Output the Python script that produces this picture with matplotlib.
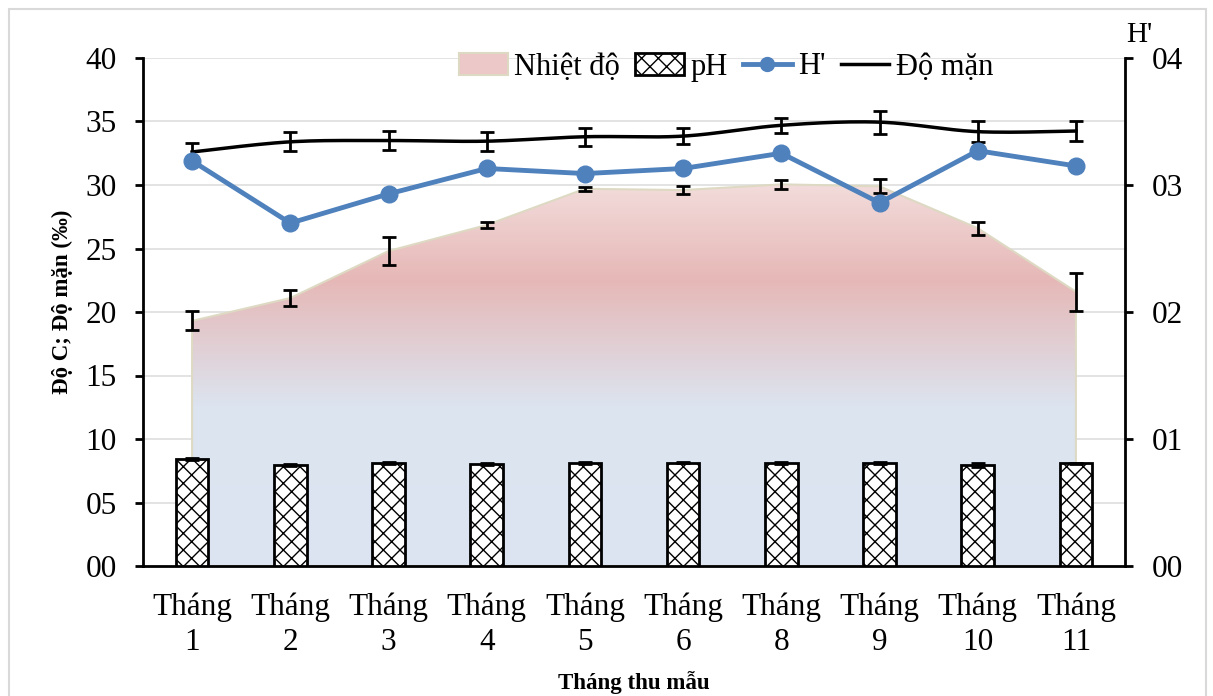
import numpy as np
import matplotlib
matplotlib.use("Agg")
import matplotlib.pyplot as plt
from matplotlib.colors import LinearSegmentedColormap
from matplotlib.patches import Polygon, Patch, Rectangle
from matplotlib.lines import Line2D
from matplotlib.ticker import FuncFormatter, MultipleLocator

plt.rcParams["font.family"] = ["Liberation Serif", "DejaVu Serif"]
plt.rcParams["hatch.linewidth"] = 1.0

# data
months = ["Tháng\n1", "Tháng\n2", "Tháng\n3", "Tháng\n4", "Tháng\n5",
          "Tháng\n6", "Tháng\n8", "Tháng\n9", "Tháng\n10", "Tháng\n11"]
temp = [19.3, 21.1, 24.8, 26.85, 29.7, 29.6, 30.05, 29.9, 26.6, 21.6]
temp_err = [0.75, 0.6, 1.1, 0.25, 0.15, 0.3, 0.35, 0.55, 0.5, 1.5]
ph = [8.43, 7.95, 8.1, 8.03, 8.1, 8.13, 8.1, 8.13, 7.95, 8.08]
ph_err = [0.08, 0.08, 0.1, 0.07, 0.06, 0.05, 0.05, 0.06, 0.15, 0.06]
salinity = [32.6, 33.4, 33.5, 33.45, 33.8, 33.85, 34.7, 34.95, 34.2, 34.25]
salinity_err = [0.7, 0.75, 0.75, 0.75, 0.7, 0.65, 0.6, 0.9, 0.8, 0.8]
h_index = [3.19, 2.70, 2.93, 3.13, 3.09, 3.13, 3.25, 2.86, 3.27, 3.15]


def catmull_rom(xs, ys, n=20):
    # smoothed line like Excel's "smoothed line" option
    pts = np.column_stack([xs, ys]).astype(float)
    pts = np.vstack([pts[0], pts, pts[-1]])
    out = []
    for i in range(1, len(pts) - 2):
        p0, p1, p2, p3 = pts[i - 1], pts[i], pts[i + 1], pts[i + 2]
        t = np.linspace(0, 1, n, endpoint=False)[:, None]
        seg = 0.5 * ((2 * p1) + (-p0 + p2) * t + (2 * p0 - 5 * p1 + 4 * p2 - p3) * t ** 2
                     + (-p0 + 3 * p1 - 3 * p2 + p3) * t ** 3)
        out.append(seg)
    out.append(pts[-2][None, :])
    out = np.vstack(out)
    return out[:, 0], out[:, 1]


x = np.arange(len(months))

fig = plt.figure(figsize=(12.13, 6.96), dpi=100)
ax = fig.add_axes([143 / 1213, 1 - 566 / 696, (1125 - 143) / 1213, (566 - 58) / 696])
ax2 = ax.twinx()

# chart border
fig.patches.append(Rectangle((9 / 1213, -0.01), (1206 - 9) / 1213, 1 - 9 / 696 + 0.01,
                             transform=fig.transFigure, fill=False, edgecolor="#d9d9d9", lw=1.5))

# grid
for v in range(5, 45, 5):
    ax.axhline(v, color="#dedede", lw=1.2, zorder=0)

# gradient area for temperature
verts = [(x[0], 0)] + list(zip(x, temp)) + [(x[-1], 0)]
poly = Polygon(verts, closed=True, facecolor="none", edgecolor="#ddd9c3", lw=1.5, zorder=2)
ax.add_patch(poly)
cmap = LinearSegmentedColormap.from_list(
    "grad", [(0, "#dbe5f1"), (0.42, "#dce4ef"), (0.75, "#e6b8b7"), (1, "#f2dcdb")])
grad = np.linspace(0, 1, 256)[:, None]
im = ax.imshow(grad, extent=[x[0], x[-1], 0, max(temp)], origin="lower", cmap=cmap,
               aspect="auto", zorder=1)
im.set_clip_path(poly)
ax.errorbar(x, temp, yerr=temp_err, fmt="none", ecolor="black", elinewidth=2,
            capsize=5, capthick=2, zorder=3)

# pH bars
ax.bar(x, ph, width=0.33, facecolor="white", edgecolor="black", lw=2, hatch="xx", zorder=4)
ax.errorbar(x, ph, yerr=ph_err, fmt="none", ecolor="black", elinewidth=1.5,
            capsize=5, capthick=2, zorder=5)

# salinity
sx, sy = catmull_rom(x, salinity)
ax.plot(sx, sy, color="black", lw=2.5, zorder=6)
ax.errorbar(x, salinity, yerr=salinity_err, fmt="none", ecolor="black", elinewidth=2,
            capsize=5, capthick=2, zorder=7)

# H'
ax2.plot(x, h_index, color="#4f81bd", lw=3.5, marker="o", markersize=12, zorder=5)

ax.set_xlim(-0.5, len(months) - 0.5)
ax.set_ylim(0, 40)
ax2.set_ylim(0, 4)
ax.yaxis.set_major_locator(MultipleLocator(5))
ax2.yaxis.set_major_locator(MultipleLocator(1))
ax.yaxis.set_major_formatter(FuncFormatter(lambda v, p: f"{int(round(v)):02d}"))
ax2.yaxis.set_major_formatter(FuncFormatter(lambda v, p: f"{int(round(v)):02d}"))

ax.set_xticks(x)
ax.set_xticklabels(months, fontsize=22.5, linespacing=1.3)
ax.tick_params(axis="x", length=0, pad=19)
ax.tick_params(axis="y", labelsize=22.5, length=6, width=2, pad=13, direction="out")
ax2.tick_params(axis="y", labelsize=22.5, length=6, width=2, pad=13, direction="out")

for a in (ax, ax2):
    a.spines["top"].set_visible(False)
    a.spines["left"].set_linewidth(2)
    a.spines["right"].set_linewidth(2)
    a.spines["bottom"].set_linewidth(2)
ax2.spines["left"].set_visible(False)
ax2.spines["bottom"].set_visible(False)
ax.spines["right"].set_visible(False)

fig.text(62 / 1213, 1 - 302 / 696, "Độ C; Độ mặn (‰)", fontsize=16.5, fontweight="bold",
         rotation=90, ha="center", va="center")
fig.text(634 / 1213, 1 - 683 / 696, "Tháng thu mẫu", fontsize=16.5, fontweight="bold",
         ha="center", va="center")
fig.text(1139 / 1213, 1 - 35 / 696, "H'", fontsize=21, ha="center", va="center")

handles = [
    Patch(facecolor="#ecc8c8", edgecolor="#ddd9c3", lw=1.5),
    Patch(facecolor="white", edgecolor="black", hatch="xx", lw=2),
    Line2D([], [], color="#4f81bd", lw=3.5, marker="o", markersize=10),
    Line2D([], [], color="black", lw=2.5),
]
labels = ["Nhiệt độ", "pH", "H'", "Độ mặn"]
fig.legend(handles, labels, loc="center", bbox_to_anchor=(726 / 1213, 1 - 67 / 696),
           ncol=4, frameon=False, fontsize=22, handlelength=1.6, handletextpad=0.2,
           columnspacing=0.5)

fig.savefig("out.png", dpi=100)
